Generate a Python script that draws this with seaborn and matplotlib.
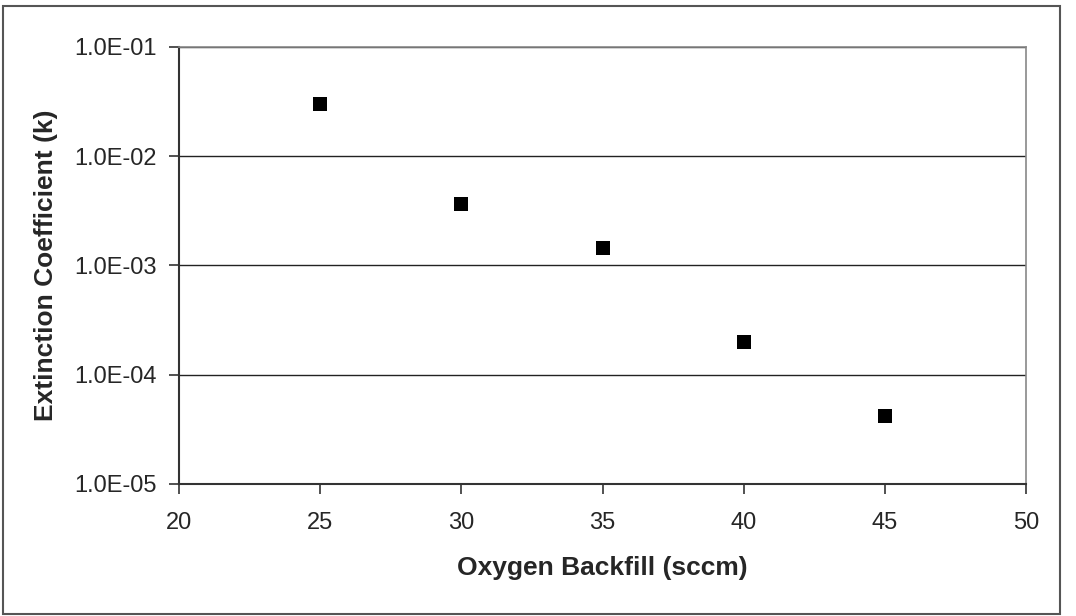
import matplotlib
matplotlib.use("Agg")
import matplotlib.pyplot as plt
import matplotlib.ticker as mticker
from matplotlib.patches import Rectangle
import pandas as pd
import seaborn as sns

# valores
oxigenio = [25, 30, 35, 40, 45]
extincao = [3.0e-2, 3.66e-3, 1.44e-3, 2.0e-4, 4.2e-5]

dados = pd.DataFrame({'oxigenio': oxigenio, 'k': extincao})

sns.set_style("white")
plt.rcParams['font.family'] = ['Liberation Sans', 'DejaVu Sans']

fig = plt.figure(figsize=(10.76, 6.16), dpi=100)
ax = fig.add_axes([179/1076, 1 - 484/616, (1026 - 179)/1076, (484 - 46.7)/616])

sns.scatterplot(data=dados, x='oxigenio', y='k', marker='s', s=95,
                color='black', edgecolor='black', linewidth=0, ax=ax, zorder=3)

ax.set_yscale('log')
ax.set_ylim(1e-5, 1e-1)
ax.set_xlim(20, 50)
ax.set_xticks([20, 25, 30, 35, 40, 45, 50])
ax.set_yticks([1e-5, 1e-4, 1e-3, 1e-2, 1e-1])
ax.yaxis.set_minor_locator(mticker.NullLocator())
ax.yaxis.set_major_formatter(mticker.FuncFormatter(lambda v, p: '%.1E' % v))

ax.grid(axis='y', color='#222222', linewidth=1)
ax.grid(axis='x', visible=False)

for lado in ['left', 'bottom']:
    ax.spines[lado].set_color('#333333')
    ax.spines[lado].set_linewidth(1.5)
for lado in ['top', 'right']:
    ax.spines[lado].set_color('#888888')
    ax.spines[lado].set_linewidth(1.2)

ax.tick_params(axis='both', direction='out', length=7, width=1.2, color='#333333',
               labelsize=17, left=True, bottom=True)
ax.tick_params(axis='y', pad=9)
ax.tick_params(axis='x', pad=13)

ax.set_xlabel('Oxygen Backfill (sccm)', fontsize=19, fontweight='bold')
ax.set_ylabel('Extinction Coefficient (k)', fontsize=19, fontweight='bold')
ax.xaxis.set_label_coords(0.5, (484 - 568) / 437.3)
ax.yaxis.set_label_coords((46 - 179) / 847, 0.5)
ax.xaxis.label.set_va('center')
ax.yaxis.label.set_va('center')

fig.patches.append(Rectangle((3/1076, 2/616), (1060 - 3)/1076, (612 - 4)/616,
                             transform=fig.transFigure, fill=False,
                             edgecolor='#555555', linewidth=1.5))

fig.savefig('out.png', dpi=100)
